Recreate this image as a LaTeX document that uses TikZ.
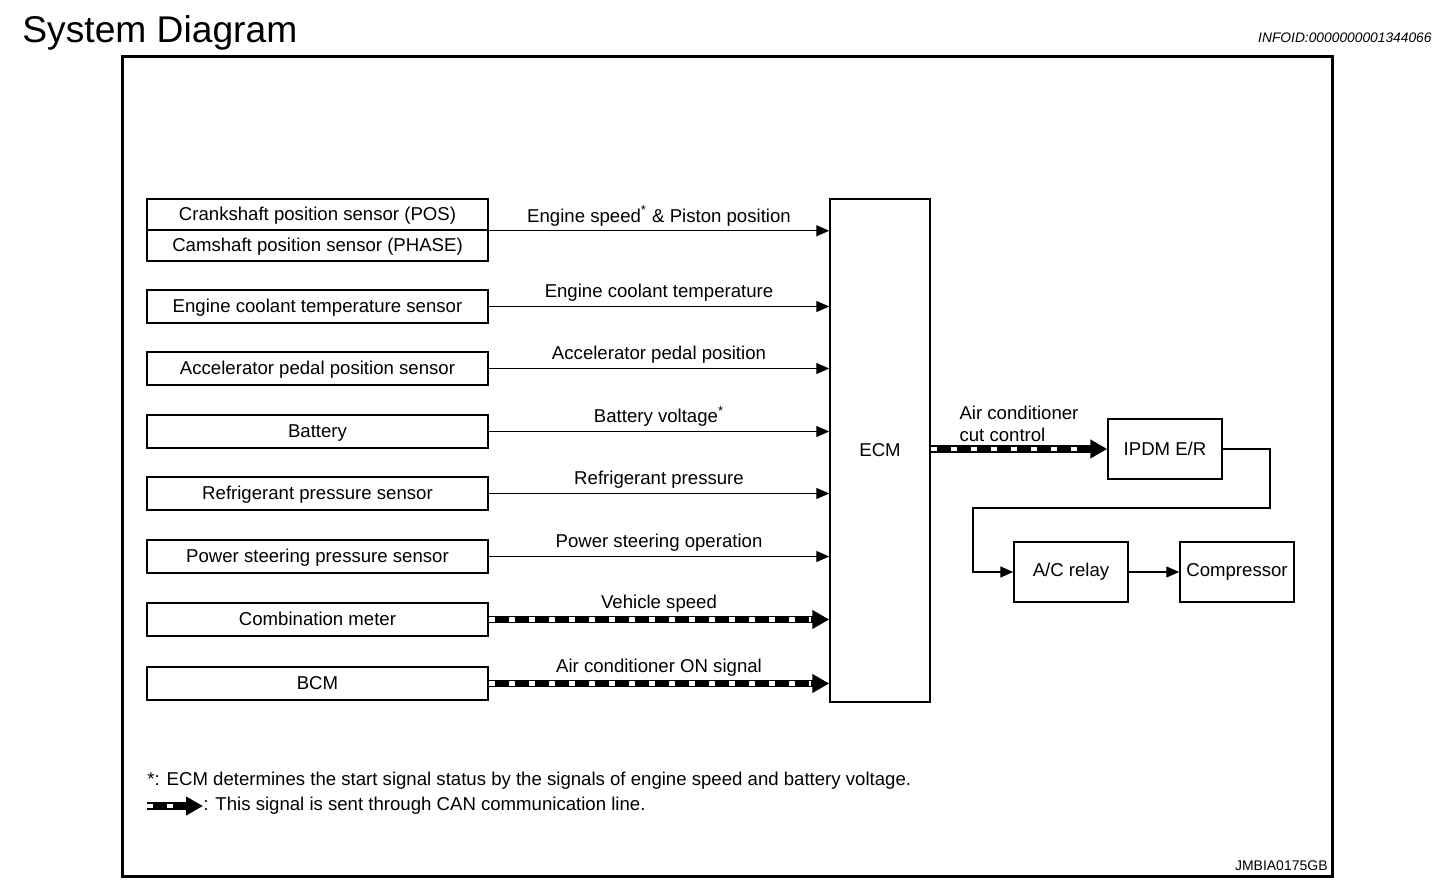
\documentclass[tikz,border=0pt]{standalone}
\usepackage{fontspec}
\setmainfont{Liberation Sans}
\usetikzlibrary{arrows.meta}

\begin{document}
\begin{tikzpicture}
    [x=0.5pt, y=-0.5pt,
      every node/.style={font=\fontsize{9.3}{11}\selectfont},
      unit/.style={draw, line width=0.75pt, minimum width=170.5pt, minimum height=16.5pt, inner sep=0pt,
        text height=6.7pt, text depth=0.8pt},
      halfunit/.style={unit, minimum height=15.5pt},
      block/.style={draw, line width=0.75pt, minimum width=57pt, minimum height=30pt, inner sep=0pt},
      tag/.style={midway, above, inner sep=2pt},
      sig/.style={line width=0.7pt, -{Triangle[length=6.5pt, width=5.5pt]}},
      can/.style={line width=3.6pt, -{Triangle[length=8.5pt, width=9pt]},
        postaction={draw=white, line width=2.2pt, dash pattern=on 3pt off 7pt, shorten >=9pt, -}}]
    \useasboundingbox (0,0) rectangle (1456,894);
    % heading
    \node[anchor=base west, inner sep=0pt, font=\fontsize{18.6}{22}\selectfont] (title) at (22,42) {System Diagram};
    \node[anchor=base east, inner sep=0pt, font=\fontsize{6.9}{8}\itshape] (info) at (1432,42) {INFOID:0000000001344066};
    \draw[line width=1.5pt] (122,56) rectangle (1332,876);
    % inputs
    \node[halfunit] (crank) at (317.5,214.5) {Crankshaft position sensor (POS)};
    \node[halfunit] (cam) at (317.5,245.5) {Camshaft position sensor (PHASE)};
    \node[unit] (coolant) at (317.5,306.5) {Engine coolant temperature sensor};
    \node[unit] (accel) at (317.5,368.5) {Accelerator pedal position sensor};
    \node[unit] (battery) at (317.5,431.5) {Battery};
    \node[unit] (refrig) at (317.5,493.5) {Refrigerant pressure sensor};
    \node[unit] (steer) at (317.5,556.5) {Power steering pressure sensor};
    \node[unit] (meter) at (317.5,619.5) {Combination meter};
    \node[unit] (bcm) at (317.5,683.5) {BCM};
    % control unit and outputs
    \node[draw, line width=0.75pt, minimum width=50pt, minimum height=251.5pt, inner sep=0pt] (ecm) at (880,450.5) {ECM};
    \node[block] (ipdm) at (1165,449) {IPDM E/R};
    \node[block] (relay) at (1071,572) {A/C relay};
    \node[block] (comp) at (1237,572) {Compressor};
    % signals
    \draw[sig] (crank.south east) -- (crank.south east -| ecm.west)
      node[tag] {Engine speed\textsuperscript{*} \& Piston position};
    \draw[sig] (coolant.east) -- (coolant.east -| ecm.west) node[tag] {Engine coolant temperature};
    \draw[sig] (accel.east) -- (accel.east -| ecm.west) node[tag] {Accelerator pedal position};
    \draw[sig] (battery.east) -- (battery.east -| ecm.west) node[tag] {Battery voltage\textsuperscript{*}};
    \draw[sig] (refrig.east) -- (refrig.east -| ecm.west) node[tag] {Refrigerant pressure};
    \draw[sig] (steer.east) -- (steer.east -| ecm.west) node[tag] {Power steering operation};
    \draw[can] (meter.east) -- (meter.east -| ecm.west) node[tag] {Vehicle speed};
    \draw[can] (bcm.east) -- (bcm.east -| ecm.west) node[tag] {Air conditioner ON signal};
    \draw[can] (ipdm.west -| ecm.east) -- (ipdm.west)
      node[tag, align=left] {Air conditioner\\cut control};
    \draw[sig] (ipdm.east) -- (1270,449) |- (973,508) |- (relay.west);
    \draw[sig] (relay.east) -- (comp.west);
    % notes
    \node[anchor=base west, inner sep=0pt] (note) at (147,785) {*: ECM determines the start signal status by the signals of engine speed and battery voltage.};
    \coordinate (legA) at (147,806);
    \coordinate (legB) at (203,806);
    \draw[can] (legA) -- (legB);
    \node[anchor=west, inner sep=0pt] (legend) at (legB) {: This signal is sent through CAN communication line.};
    \node[anchor=base east, inner sep=0pt, font=\fontsize{7}{8}\selectfont] (code) at (1328,870) {JMBIA0175GB};
\end{tikzpicture}
\end{document}
